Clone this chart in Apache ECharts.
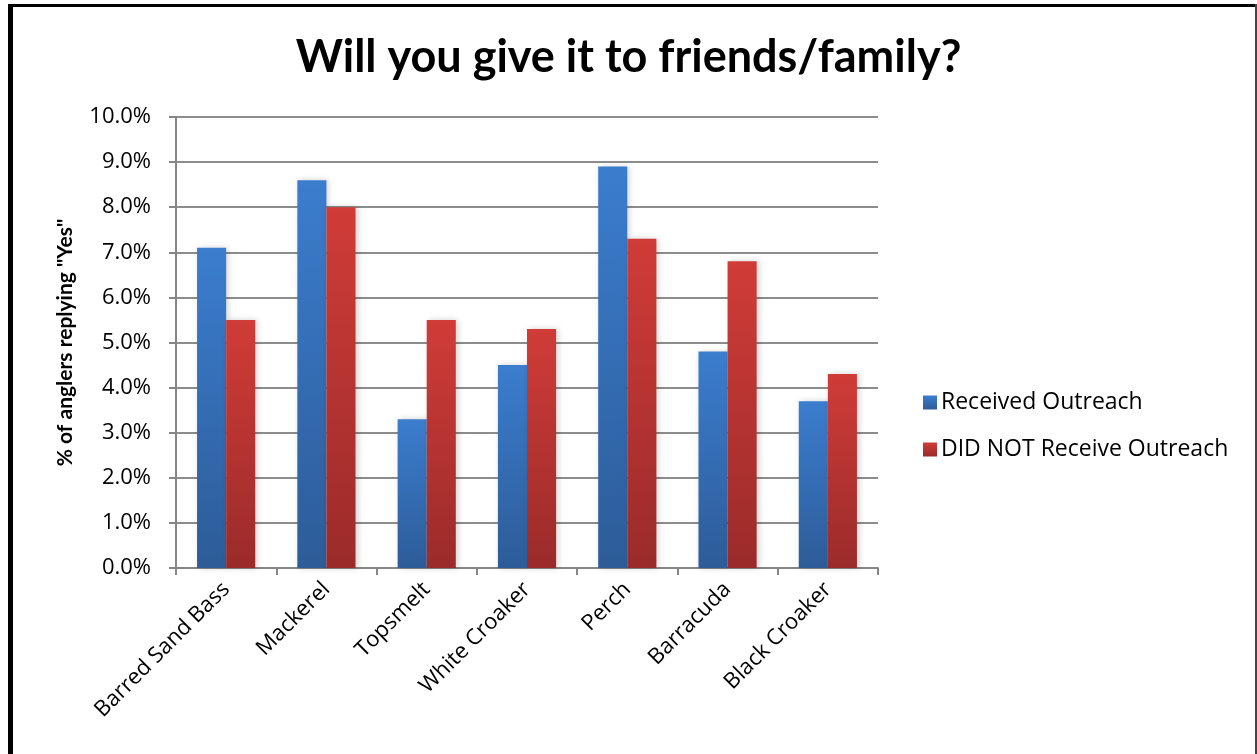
<!DOCTYPE html>
<html>
<head>
<meta charset="utf-8">
<script src="https://cdn.jsdelivr.net/npm/echarts@6/dist/echarts.min.js"></script>
<style>
    html, body { margin: 0; padding: 0; background: #fff; }
    #myChart { width: 1257px; height: 754px; }
</style>
</head>
<body>
<div id="myChart"></div>
<script>
    // 鱼种 x轴
    const categories = ['Barred Sand Bass', 'Mackerel', 'Topsmelt', 'White Croaker', 'Perch', 'Barracuda', 'Black Croaker'];
    // 两组数值 (%)
    const receivedOutreach = [7.1, 8.6, 3.3, 4.5, 8.9, 4.8, 3.7];
    const didNotReceive = [5.5, 8.0, 5.5, 5.3, 7.3, 6.8, 4.3];
    const seriesNames = ['Received Outreach', 'DID NOT Receive Outreach'];

    const titleFont = 'Lato, "Open Sans", sans-serif';
    const font = '"Open Sans", Lato, sans-serif';

    function grad(top, bottom) {
        return new echarts.graphic.LinearGradient(0, 0, 0, 1, [
            { offset: 0, color: top },
            { offset: 1, color: bottom }
        ]);
    }

    const chart = echarts.init(document.getElementById('myChart'));
    const option = {
        animation: false,
        title: {
            text: 'Will you give it to friends/family?',
            left: 'center',
            top: 30,
            textStyle: { fontFamily: titleFont, fontSize: 45, fontWeight: 'bold', color: '#000' }
        },
        legend: {
            orient: 'vertical',
            left: 918,
            top: 386,
            itemGap: 24,
            itemWidth: 14,
            itemHeight: 14,
            icon: 'rect',
            textStyle: { fontFamily: font, fontSize: 23, lineHeight: 23, color: '#000', padding: [0, 0, 0, -1] },
            data: seriesNames
        },
        grid: { left: 176, right: 379, top: 117, bottom: 186 },
        xAxis: {
            type: 'category',
            data: categories,
            axisLine: { lineStyle: { color: '#868686', width: 2 } },
            axisTick: { show: true, length: 7, lineStyle: { color: '#868686', width: 2 } },
            axisLabel: {
                rotate: 45,
                interval: 0,
                margin: 18,
                fontFamily: font,
                fontSize: 22,
                color: '#000'
            }
        },
        yAxis: {
            type: 'value',
            min: 0,
            max: 10,
            interval: 1,
            name: '% of anglers replying "Yes"',
            nameLocation: 'middle',
            nameGap: 100,
            nameTextStyle: { fontFamily: titleFont, fontSize: 21, fontWeight: 'bold', color: '#000' },
            axisLine: { show: true, lineStyle: { color: '#868686', width: 2 } },
            axisTick: { show: true, length: 7, lineStyle: { color: '#868686', width: 2 } },
            splitLine: { lineStyle: { color: '#8c8c8c', width: 2 } },
            axisLabel: {
                margin: 25,
                fontFamily: font,
                fontSize: 22,
                color: '#000',
                formatter: v => v.toFixed(1) + '%'
            }
        },
        series: [
            {
                name: seriesNames[0],
                type: 'bar',
                data: receivedOutreach,
                barWidth: '29%',
                barGap: '0%',
                itemStyle: {
                    color: grad('#3b7dce', '#2d5c98'),
                    shadowColor: 'rgba(0,0,0,0.18)',
                    shadowBlur: 6,
                    shadowOffsetX: 2
                }
            },
            {
                name: seriesNames[1],
                type: 'bar',
                data: didNotReceive,
                barWidth: '29%',
                barGap: '0%',
                itemStyle: {
                    color: grad('#d03c38', '#9a2b2a'),
                    shadowColor: 'rgba(0,0,0,0.18)',
                    shadowBlur: 6,
                    shadowOffsetX: 2
                }
            }
        ],
        graphic: [
            // 外框
            { type: 'rect', shape: { x: 8, y: 4, width: 5, height: 760 }, style: { fill: '#000' } },
            { type: 'rect', shape: { x: 8, y: 4, width: 1249, height: 3 }, style: { fill: '#000' } },
            { type: 'rect', shape: { x: 1255, y: 4, width: 2, height: 760 }, style: { fill: '#444' } }
        ]
    };
    chart.setOption(option);
</script>
</body>
</html>
